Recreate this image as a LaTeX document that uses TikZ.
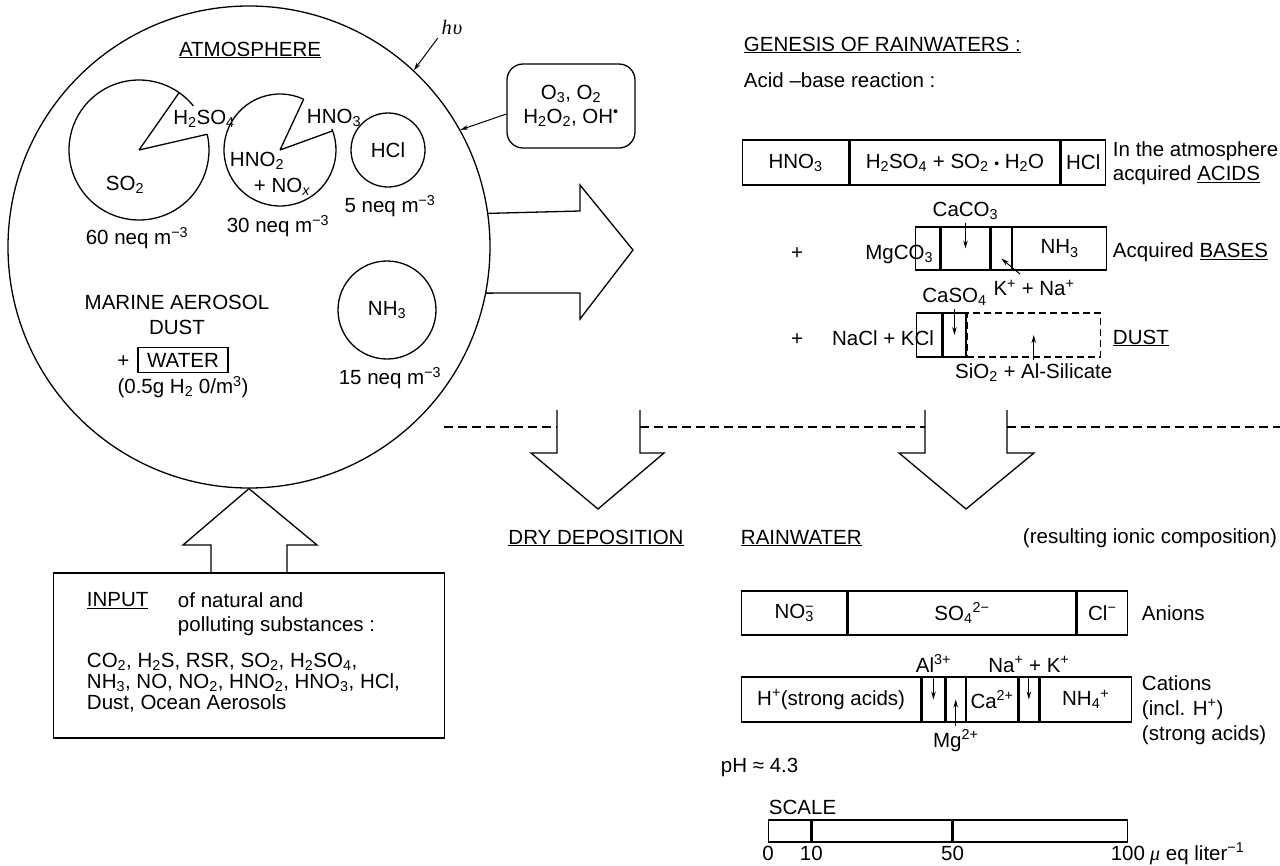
\documentclass[tikz,border=0pt]{standalone}
\usepackage{fontspec}
\setmainfont{Liberation Sans}
\newfontfamily\serifit{Liberation Serif}
\usetikzlibrary{positioning, arrows.meta}
\newcommand{\chsub}[1]{\textsubscript{#1}}
\newcommand{\chsup}[1]{\textsuperscript{#1}}

\begin{document}
\begin{tikzpicture}[x=1pt, y=-1pt, line width=1.3pt,
    font=\fontsize{20.5}{24}\selectfont,
    cell/.style={draw, anchor=west, inner sep=1pt},
    feed/.style={-{Stealth[length=8pt,width=4.5pt]}, line width=1pt},
    hollow/.style={line width=1.3pt}]
\useasboundingbox (0,0) rectangle (1280,865);

% atmosphere
\node[draw, circle, minimum size=482, inner sep=0] (atm) at (249,247) {};
\node (atmlbl) at (250,50) {\underline{ATMOSPHERE}};

\coordinate (so2c) at (139,150);
\draw (so2c) ++(39:70pt) arc[start angle=39, end angle=373, radius=70pt];
\draw (so2c) -- +(55:70pt) (so2c) -- +(13:70pt);
\coordinate (hno2c) at (280,150);
\draw (hno2c) ++(65:56pt) arc[start angle=65, end angle=382, radius=56pt];
\draw (hno2c) -- +(65:56pt) (hno2c) -- +(20:56pt);

\node (h2so4) at (204,119) {H\chsub{2}SO\chsub{4}};
\node (hno3) at (334,118) {HNO\chsub{3}};
\node (so2) at (125,185) {SO\chsub{2}};
\node (hno2) at (257,161) {HNO\chsub{2}};
\node (nox) at (282,187) {+ NO\chsub{\itshape x}};
\node (n60) at (137,238) {60 neq m\chsup{−3}};
\node (n30) at (278,226) {30 neq m\chsup{−3}};
\node[draw, circle, minimum size=74, inner sep=0] (hcl) at (388,150) {HCl};
\node (n5) at (390,206) {5 neq m\chsup{−3}};
\node[draw, circle, minimum size=98, inner sep=0] (nh3) at (387,310) {NH\chsub{3}};
\node (n15) at (390,378) {15 neq m\chsup{−3}};
\node[align=center, font=\fontsize{20.5}{25}\selectfont] (marine) at (177,315) {MARINE AEROSOL\\DUST};
\node[draw, inner sep=1pt, minimum width=90, minimum height=25, line width=1.2pt] (water) at (183,360) {WATER};
\node[anchor=base east] (plusw) at ([xshift=-4pt]water.base west) {+};
\node (dens) at (183,387) {(0.5g H\chsub{2} 0/m\chsup{3})};

% oxidants and light
\node (hv) at (452,27) {\serifit\itshape h\kern1pt υ};
\draw[feed] (hv.south west) -- (atm.47);
\node[draw, rounded corners=16pt, minimum width=128, minimum height=84, align=center] (ox) at (571,106) {O\chsub{3}, O\chsub{2}\\H\chsub{2}O\chsub{2}, OH\chsup{•}};
\draw[feed] ([yshift=-8pt]ox.west) -- (atm.29);

% big arrows
\draw[hollow] (atm.8.6) -- (580,211) -- (580,185) -- (633,250) -- (580,319) -- (580,293) -- (atm.-11);
\node[draw, minimum width=391, minimum height=165, inner sep=0] (inbox) at (249,655.5) {};
\draw[hollow] ([xshift=-38pt]inbox.north) -- (211,545) -- (183,545) -- (atm.south) -- (317,545) -- (287,545) -- ([xshift=38pt]inbox.north);
\draw[hollow] (557,410) -- (557,453) -- (531,453) -- (598,509) -- (664,453) -- (640,453) -- (640,410);
\draw[hollow] (925,410) -- (925,453) -- (899,453) -- (966,509) -- (1034,453) -- (1007,453) -- (1007,410);
\draw[dash pattern=on 9pt off 5pt] (444,427) -- (557,427) (640,427) -- (925,427) (1007,427) -- (1280,427);

% input
\node[anchor=west] (inputlbl) at (83,601) {\underline{INPUT}};
\node[anchor=west, align=left] (inputtxt) at (174,614) {of natural and\\polluting substances :};
\node[anchor=west, align=left, font=\fontsize{20.5}{21}\selectfont] (subst) at (83,683) {CO\chsub{2}, H\chsub{2}S, RSR, SO\chsub{2}, H\chsub{2}SO\chsub{4},\\NH\chsub{3}, NO, NO\chsub{2}, HNO\chsub{2}, HNO\chsub{3}, HCl,\\Dust, Ocean Aerosols};

% genesis
\node[anchor=west] (genesis) at (740,45) {\underline{GENESIS OF RAINWATERS :}};
\node[anchor=west] (acidbase) at (740,80) {Acid –base reaction :};

\node[cell, minimum width=106, minimum height=45] (a1) at (742,162.5) {HNO\chsub{3}};
\node[cell, minimum width=210, minimum height=45] (a2) at (a1.east) {H\chsub{2}SO\chsub{4} + SO\chsub{2} {\fontsize{14}{14}\selectfont•} H\chsub{2}O};
\node[cell, minimum width=44, minimum height=45] (a3) at (a2.east) {HCl};
\node[anchor=west, align=left] (acidtxt) at (1109,163) {In the atmosphere\\acquired \underline{ACIDS}};

\node[anchor=base] (plusb) at (797,259) {+};
\node[cell, minimum width=24, minimum height=43] (b1) at (915,248.5) {};
\node[cell, minimum width=49, minimum height=43] (b2) at (b1.east) {};
\node[cell, minimum width=20, minimum height=43] (b3) at (b2.east) {};
\node[cell, minimum width=94, minimum height=43] (b4) at (b3.east) {NH\chsub{3}};
\node[anchor=base east] (mgco3) at (937,259) {MgCO\chsub{3}};
\node[above=3pt of b2] (caco3) {CaCO\chsub{3}};
\draw[feed] (caco3) -- (b2.center);
\node (kna) at (1034,288) {K\chsup{+} + Na\chsup{+}};
\draw[feed] ([xshift=-14pt, yshift=2pt]kna.north) -- ([yshift=-10pt]b3.center);
\node[anchor=west] (basetxt) at (1109,252) {Acquired \underline{BASES}};

\node[anchor=base] (plusd) at (797,345) {+};
\node[cell, minimum width=25, minimum height=44] (d1) at (916,335) {};
\node[cell, minimum width=23, minimum height=44] (d2) at (d1.east) {};
\node[cell, minimum width=133, minimum height=44, dash pattern=on 7pt off 4pt] (d3) at (d2.east) {};
\node[anchor=base east] (nacl) at (938,345) {NaCl + KCl};
\node[above=3pt of d2] (caso4) {CaSO\chsub{4}};
\draw[feed] (caso4) -- (d2.center);
\node[below=2pt of d3] (sio2) {SiO\chsub{2} + Al-Silicate};
\draw[feed] (sio2) -- (d3.center);
\node[anchor=west] (dusttxt) at (1109,338) {\underline{DUST}};

% rainwater
\node (drydep) at (596,538) {\underline{DRY DEPOSITION}};
\node[anchor=west] (rainlbl) at (737,538) {\underline{RAINWATER}};
\node[anchor=east] (ionic) at (1281,538) {(resulting ionic composition)};

\node[cell, minimum width=105, minimum height=44] (an1) at (741,613) {NO\rlap{\chsup{−}}\chsub{3}};
\node[cell, minimum width=228, minimum height=44] (an2) at (an1.east) {SO\chsub{4}\chsup{2−}};
\node[cell, minimum width=50, minimum height=44] (an3) at (an2.east) {Cl\chsup{−}};
\node[anchor=west] (aniontxt) at (1138,613) {Anions};

\node[cell, minimum width=179, minimum height=45] (c1) at (741,699.5) {H\chsup{+}(strong acids)};
\node[cell, minimum width=23, minimum height=45] (c2) at (c1.east) {};
\node[cell, minimum width=19, minimum height=45] (c3) at (c2.east) {};
\node[cell, minimum width=51, minimum height=45] (c4) at (c3.east) {Ca\chsup{2+}};
\node[cell, minimum width=20, minimum height=45] (c5) at (c4.east) {};
\node[cell, minimum width=91, minimum height=45] (c6) at (c5.east) {NH\chsub{4}\chsup{+}};
\node[above=0pt of c2] (al) {Al\chsup{3+}};
\draw[feed] (al) -- (c2.center);
\node[above=0pt of c5] (nak) {Na\chsup{+} + K\chsup{+}};
\draw[feed] (nak) -- (c5.center);
\node[below=3pt of c3] (mg) {Mg\chsup{2+}};
\draw[feed] (mg) -- (c3.center);
\node[anchor=west, align=left, font=\fontsize{20.5}{25}\selectfont] (catxt) at (1138,710) {Cations\\(incl. H\chsup{+})\\(strong acids)};

\node[anchor=west] (ph) at (717,767) {pH ≈ 4.3};
\node[anchor=west] (scalelbl) at (765,807) {SCALE};
\node[cell, minimum width=42, minimum height=22] (s1) at (768,831) {};
\node[cell, minimum width=140, minimum height=22] (s2) at (s1.east) {};
\node[cell, minimum width=174, minimum height=22] (s3) at (s2.east) {};
\node[below=0pt of s1.south west] (t0) {0};
\node[below=0pt of s1.south east] (t10) {10};
\node[below=0pt of s2.south east] (t50) {50};
\node[below=0pt of s3.south east] (t100) {100};
\node[right=-3pt of t100] (unit) {{\serifit\itshape μ} eq liter\chsup{−1}};
\end{tikzpicture}
\end{document}
